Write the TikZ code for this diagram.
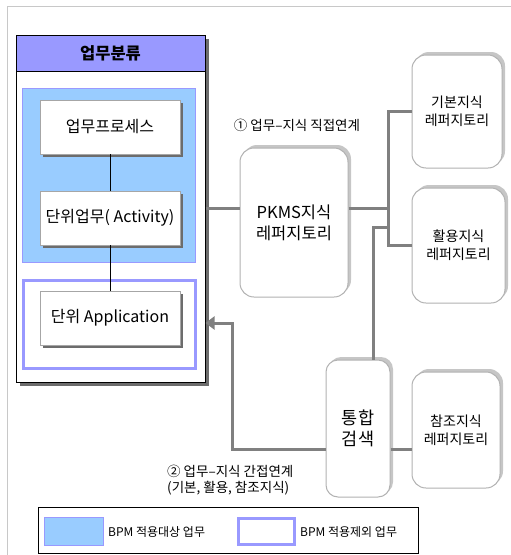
\documentclass[tikz,border=0pt]{standalone}
\usepackage{fontspec}
\setmainfont{Noto Sans CJK KR}
\usepackage{tikz}
\usetikzlibrary{arrows.meta, shadows, calc}
\definecolor{bpmin}{RGB}{153,204,255}
\definecolor{bpmout}{RGB}{153,153,255}
\definecolor{linkgray}{RGB}{128,128,128}
\definecolor{framegray}{RGB}{200,200,200}
\tikzset{
  procbox/.style={draw=gray!70, fill=white, inner sep=0pt, minimum width=140pt, minimum height=54pt,
    font=\fontsize{16}{18}\selectfont,
    drop shadow={shadow xshift=3pt, shadow yshift=-3pt, fill=gray!85!black, opacity=1}},
  repobox/.style={draw=gray!60, line width=1pt, fill=white, rounded corners=14pt, inner sep=0pt,
    align=center, font=\fontsize{14}{18}\selectfont,
    drop shadow={shadow xshift=3pt, shadow yshift=3pt, fill=gray!45, opacity=1}},
  conn/.style={draw=linkgray, line width=3pt},
}
\begin{document}
\begin{tikzpicture}[x=1pt, y=-1pt]
    \useasboundingbox (0,0) rectangle (511,555);
    % Cadre
    \draw[framegray, line width=1pt] (7,555) -- (7,6) -- (511,6);

    % === Classement des taches (gauche) ===
    \node[draw, line width=1pt, fill=white, minimum width=189pt, minimum height=347pt,
      drop shadow={shadow xshift=4pt, shadow yshift=-4pt, fill=gray!85!black, opacity=1}] (cls) at (110.5,208.5) {};
    \node[draw, line width=1pt, fill=bpmout, minimum width=189pt, minimum height=36pt,
      font=\fontsize{16.5}{18}\selectfont\bfseries] (clstitle) at (110.5,53) {업무분류};

    % Zone BPM
    \node[draw=bpmout, fill=bpmin, minimum width=173pt, minimum height=174pt] (bpmzone) at (108.5,175) {};
    \node[draw=bpmout, line width=3pt, fill=white, minimum width=172pt, minimum height=88pt] (appzone) at (109,324.5) {};

    % Boites
    \node[procbox] (proc) at (110,127) {업무프로세스};
    \node[procbox] (act) at (110,218) {단위업무( Activity)};
    \node[procbox] (app) at (110,318) {단위 Application};
    \draw (proc.south) -- (act.north);
    \draw (act.south) -- (app.north);

    % === Referentiels ===
    \node[repobox, minimum width=108pt, minimum height=149pt, font=\fontsize{16.5}{21}\selectfont] (pkms) at (294,222.5) {PKMS지식\\레퍼지토리};
    \node[repobox, minimum width=90pt, minimum height=113pt] (basic) at (457,111.5) {기본지식\\레퍼지토리};
    \node[repobox, minimum width=93pt, minimum height=115pt] (usage) at (458.5,245.5) {활용지식\\레퍼지토리};
    \node[repobox, minimum width=88pt, minimum height=116pt] (refer) at (456,430) {참조지식\\레퍼지토리};
    \node[repobox, rounded corners=12pt, minimum width=64pt, minimum height=137pt,
      font=\fontsize{17.5}{21}\selectfont] (search) at (358,428.5) {통합\\검색};

    % Liens directs
    \coordinate (link1) at (0,208);
    \coordinate (jct) at (388,208);
    \coordinate (tap) at (373,227);
    \draw[conn] (cls.east |- link1) -- (pkms.west |- link1);
    \draw[conn] (pkms.east |- link1) -- (jct);
    \draw[conn] (basic.west) -| (jct) |- (usage.west);
    \draw[conn] (search.north -| tap) -- (tap) -- (tap -| jct);

    % Liens indirects
    \coordinate (back) at (0,449);
    \coordinate (turn) at (232,323);
    \draw[conn] (search.east |- back) -- (refer.west |- back);
    \draw[conn, -{Triangle[length=9pt, width=13pt]}] (search.west |- back) -| (turn) -- (cls.east |- turn);

    % Etiquettes
    \node[font=\fontsize{13.5}{16}\selectfont] (lbl1) at (297,125) {① 업무–지식 직접연계};
    \node[font=\fontsize{13.5}{16}\selectfont, align=left, anchor=west, inner sep=0pt] (lbl2) at (167,480) {② 업무–지식 간접연계\\(기본, 활용, 참조지식)};

    % Legende
    \node[draw, line width=1pt, minimum width=380pt, minimum height=46pt] (legend) at (228,530) {};
    \node[draw=bpmout, fill=bpmin, minimum width=59pt, minimum height=28pt] (sw1) at (73.5,531) {};
    \node[font=\fontsize{12}{15}\selectfont, anchor=west, inner sep=0pt] (txt1) at (108,532) {BPM 적용대상 업무};
    \node[draw=bpmout, line width=3pt, minimum width=56pt, minimum height=26pt] (sw2) at (266,531) {};
    \node[font=\fontsize{12}{15}\selectfont, anchor=west, inner sep=0pt] (txt2) at (300,532) {BPM 적용제외 업무};
\end{tikzpicture}
\end{document}
